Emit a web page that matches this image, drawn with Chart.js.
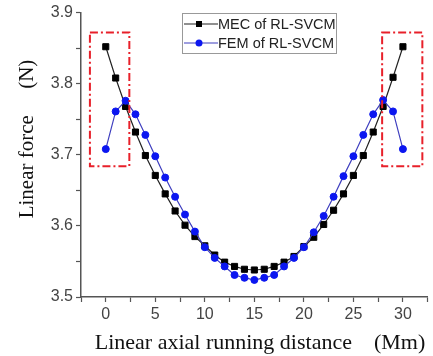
<html>
<head>
<meta charset="utf-8">
<script src="https://cdn.jsdelivr.net/npm/chart.js"></script>
<style>
  body { margin: 0; background: #fff; }
  #wrap { position: relative; width: 433px; height: 356px; }
</style>
</head>
<body>
<div id="wrap"><canvas id="myChart"></canvas></div>
<script>
// Data
const distance = [0,1,2,3,4,5,6,7,8,9,10,11,12,13,14,15,16,17,18,19,20,21,22,23,24,25,26,27,28,29,30];
const mecForce = [3.852,3.808,3.768,3.732,3.699,3.671,3.645,3.621,3.601,3.585,3.572,3.559,3.549,3.543,3.539,3.538,
                  3.539,3.543,3.549,3.557,3.571,3.584,3.602,3.622,3.645,3.671,3.699,3.732,3.768,3.809,3.852];
const femForce = [3.708,3.761,3.776,3.757,3.728,3.698,3.668,3.641,3.616,3.592,3.570,3.555,3.543,3.531,3.527,3.524,
                  3.527,3.531,3.543,3.555,3.570,3.591,3.614,3.641,3.670,3.698,3.728,3.757,3.777,3.761,3.708];
const seriesNames = ['MEC of RL-SVCM', 'FEM of RL-SVCM'];
const xTitle = 'Linear axial running distance\u3000(Mm)';
const yTitle = 'Linear force\u3000 (N)';

// highlighted end regions (data units)
const boxRangesX = [[-1.6, 2.38], [27.9, 31.96]];
const boxRangeY = [3.684, 3.872];

const MEC_COLOR = '#000000';
const FEM_COLOR = '#0b16f0';

const toPoints = (ys) => ys.map((y, i) => ({ x: distance[i], y }));

// titles, legend and red dash-dot boxes
const extras = {
  id: 'extras',
  afterDatasetsDraw(chart) {
    const { ctx, scales: { x, y } } = chart;
    ctx.save();
    ctx.strokeStyle = '#e8202a';
    ctx.lineWidth = 2;
    ctx.setLineDash([8, 3, 2, 3]);
    boxRangesX.forEach(([a, b]) => {
      const l = x.getPixelForValue(a), r = x.getPixelForValue(b);
      const t = y.getPixelForValue(boxRangeY[1]), btm = y.getPixelForValue(boxRangeY[0]);
      ctx.strokeRect(l, t, r - l, btm - t);
    });
    ctx.restore();
  },
  afterDraw(chart) {
    const { ctx } = chart;
    ctx.save();
    // axis titles
    ctx.fillStyle = '#111';
    ctx.font = '22px "Liberation Serif", "Times New Roman", serif';
    ctx.textAlign = 'center';
    ctx.textBaseline = 'alphabetic';
    ctx.fillText(xTitle, 260, 349);
    ctx.translate(27, 139);
    ctx.rotate(-Math.PI / 2);
    ctx.font = '21px "Liberation Serif", "Times New Roman", serif';
    ctx.textBaseline = 'middle';
    ctx.fillText(yTitle, 0, 0);
    ctx.restore();

    // legend
    ctx.save();
    ctx.strokeStyle = '#999';
    ctx.lineWidth = 1;
    ctx.strokeRect(182.5, 13.5, 154, 40);
    const rows = [
      { y: 24, color: MEC_COLOR, line: '#222', name: seriesNames[0], square: true },
      { y: 43, color: FEM_COLOR, line: '#3f3fbf', name: seriesNames[1], square: false }
    ];
    rows.forEach(r => {
      ctx.strokeStyle = r.line;
      ctx.lineWidth = 1.2;
      ctx.beginPath();
      ctx.moveTo(184, r.y);
      ctx.lineTo(218, r.y);
      ctx.stroke();
      ctx.fillStyle = r.color;
      if (r.square) {
        ctx.fillRect(196, r.y - 3, 6, 6);
      } else {
        ctx.beginPath();
        ctx.arc(199, r.y, 3.5, 0, Math.PI * 2);
        ctx.fill();
      }
      ctx.fillStyle = '#222';
      ctx.font = '14.5px "Liberation Sans", Arial, sans-serif';
      ctx.textAlign = 'left';
      ctx.textBaseline = 'middle';
      ctx.fillText(r.name, 218, r.y + 1);
    });
    ctx.restore();
  }
};

const ctx = document.getElementById('myChart');
const chart = new Chart(ctx, {
  type: 'line',
  data: {
    datasets: [
      {
        label: seriesNames[0],
        data: toPoints(mecForce),
        borderColor: '#222',
        borderWidth: 1.2,
        backgroundColor: MEC_COLOR,
        pointStyle: 'rect',
        pointRadius: 4.3,
        pointBorderWidth: 1,
        pointBackgroundColor: MEC_COLOR,
        pointBorderColor: MEC_COLOR,
        tension: 0,
        order: 1
      },
      {
        label: seriesNames[1],
        data: toPoints(femForce),
        borderColor: '#3f3fbf',
        borderWidth: 1.2,
        backgroundColor: FEM_COLOR,
        pointStyle: 'circle',
        pointRadius: 3.5,
        pointBorderWidth: 1,
        pointBackgroundColor: FEM_COLOR,
        pointBorderColor: FEM_COLOR,
        tension: 0,
        order: 0
      }
    ]
  },
  options: {
    responsive: true,
    maintainAspectRatio: false,
    animation: false,
    layout: { padding: { top: 12, right: 1, left: 0, bottom: 0 } },
    plugins: { legend: { display: false }, tooltip: { enabled: false } },
    scales: {
      x: {
        type: 'linear',
        min: -2.5,
        max: 32.5,
        afterFit: (s) => { s.height = 59; },
        border: { display: true, color: '#555', width: 1.5 },
        grid: { drawOnChartArea: false, drawTicks: true, tickLength: 5, tickColor: '#555', tickWidth: 1.2 },
        ticks: {
          stepSize: 2.5,
          autoSkip: false,
          maxRotation: 0,
          padding: 3,
          color: '#444',
          font: { family: '"Liberation Sans", Arial, sans-serif', size: 16 },
          callback: (v) => (v % 5 === 0 ? String(v) : '')
        }
      },
      y: {
        min: 3.5,
        max: 3.9,
        afterFit: (s) => { s.width = 81; },
        border: { display: true, color: '#555', width: 1.5 },
        grid: { drawOnChartArea: false, drawTicks: true, tickLength: 5, tickColor: '#555', tickWidth: 1.2 },
        ticks: {
          stepSize: 0.05,
          autoSkip: false,
          padding: 3,
          color: '#444',
          font: { family: '"Liberation Sans", Arial, sans-serif', size: 16 },
          callback: (v) => (Math.abs(v * 10 - Math.round(v * 10)) < 1e-6 ? v.toFixed(1) : '')
        }
      }
    }
  },
  plugins: [extras]
});
</script>
</body>
</html>
